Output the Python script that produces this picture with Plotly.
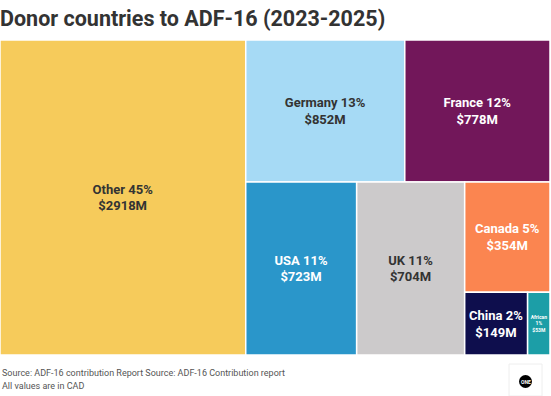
import plotly.graph_objects as go

labels = ["Other", "Germany", "France", "USA", "UK", "Canada", "China", "African"]
values = [2918, 852, 778, 723, 704, 354, 149, 53]
colors = ["#F6CB5B", "#A6DAF5", "#72175A", "#2A96CA", "#CCCACB", "#FB8550", "#0E0E4D", "#1C9EA7"]
text_colors = ["#333333", "#333333", "#FFFFFF", "#FFFFFF", "#333333", "#FFFFFF", "#FFFFFF", "#FFFFFF"]

total = sum(values)
texts = []
for lab, v in zip(labels, values):
    pct = round(100 * v / total)
    if lab == "African":
        texts.append(f"<b>{lab}<br>{pct}%<br>${v}M</b>")
    else:
        texts.append(f"<b>{lab} {pct}%<br>${v}M</b>")

root = "Total"
fig = go.Figure(go.Treemap(
    ids=[root] + labels,
    labels=[root] + labels,
    parents=[""] + [root] * len(labels),
    values=[total] + values,
    branchvalues="total",
    text=[""] + texts,
    texttemplate="%{text}",
    textposition="middle center",
    textfont=dict(family="Roboto", size=13, color=["#FFFFFF"] + text_colors),
    marker=dict(colors=["#FFFFFF"] + colors, line=dict(color="#FFFFFF", width=1.5),
                pad=dict(t=0, l=0, r=0, b=0)),
    tiling=dict(packing="squarify", squarifyratio=1, pad=0),
    pathbar=dict(visible=False),
    sort=True,
    hoverinfo="skip",
    domain=dict(x=[0, 1], y=[0, 1]),
))

W, H = 551, 396
fig.update_layout(
    width=W, height=H,
    margin=dict(l=0, r=1, t=40, b=41),
    paper_bgcolor="white",
    title=dict(text="<b>Donor countries to ADF-16 (2023-2025)</b>", x=0, xanchor="left",
               y=1 - 18 / H, yanchor="middle",
               font=dict(family="Roboto", size=21.5, color="#333333")),
    font=dict(family="Roboto"),
)

PW, PH = 550, 315  # plot area in px


def px(x):
    return x / PW


def py(y):
    return (355 - y) / PH


fig.add_annotation(text="Source: ADF-16 contribution Report Source: ADF-16 Contribution report",
                   xref="paper", yref="paper", x=0, y=py(373), xanchor="left", yanchor="middle",
                   showarrow=False, font=dict(family="Roboto", size=9, color="#555555"))
fig.add_annotation(text="All values are in CAD",
                   xref="paper", yref="paper", x=0, y=py(386), xanchor="left", yanchor="middle",
                   showarrow=False, font=dict(family="Roboto", size=9, color="#555555"))

# ONE logo box and badge
fig.add_shape(type="rect", xref="paper", yref="paper",
              x0=px(509), x1=px(542), y0=py(396), y1=py(364),
              fillcolor="white", line=dict(color="#EEEEEE", width=1))
cx, cy, r = 525.5, 381.5, 6.5
fig.add_shape(type="circle", xref="paper", yref="paper",
              x0=px(cx - r), x1=px(cx + r), y0=py(cy + r), y1=py(cy - r),
              fillcolor="black", line=dict(width=0))
fig.add_annotation(text="<b>ONE</b>", xref="paper", yref="paper", x=px(cx), y=py(cy),
                   xanchor="center", yanchor="middle", showarrow=False,
                   font=dict(family="Roboto", size=5, color="white"))

fig.write_html("out.html", config={"displayModeBar": False},
               post_script="document.body.style.margin='0';")
